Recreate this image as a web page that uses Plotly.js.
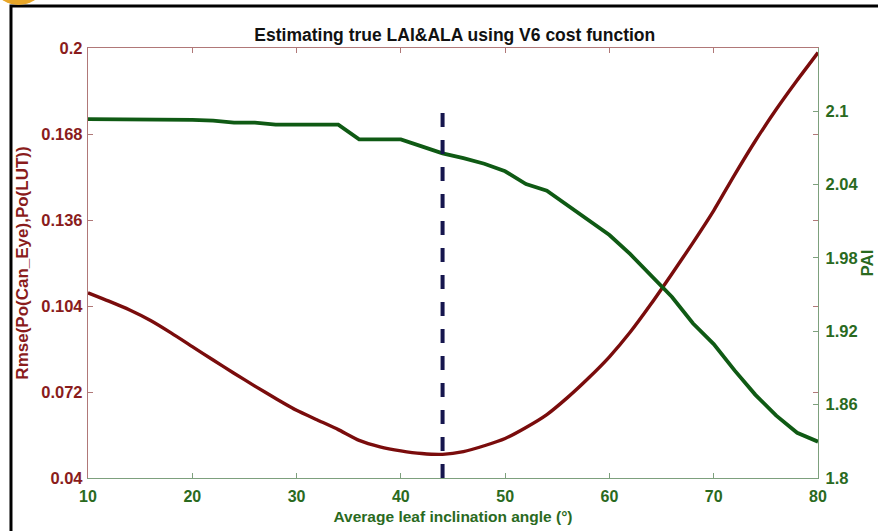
<!DOCTYPE html>
<html>
<head>
<meta charset="utf-8">
<script src="https://cdn.plot.ly/plotly-3.0.1.min.js"></script>
<style>html,body{margin:0;padding:0;background:#fff;}#chart{width:878px;height:531px;}</style>
</head>
<body>
<div id="chart"></div>
<script>
// Average leaf inclination angle (degrees)
const angle = [10,12,14,16,18,20,22,24,26,28,30,32,34,36,38,40,42,44,46,48,50,52,54,56,58,60,62,64,66,68,70,72,74,76,78,80];
// Rmse(Po(Can_Eye),Po(LUT)) - left axis
const rmse = [0.1089,0.1058,0.1025,0.0986,0.0939,0.0889,0.0839,0.0790,0.0742,0.0696,0.0652,0.0616,0.0580,0.0540,0.0516,0.0501,0.0491,0.0488,0.0498,0.0520,0.0547,0.0588,0.0636,0.0700,0.0772,0.0851,0.0943,0.1048,0.1160,0.1275,0.1395,0.1528,0.1655,0.1772,0.1880,0.1983];
// PAI - right axis
const pai = [2.0935,2.0935,2.0935,2.0935,2.0933,2.0928,2.0922,2.0906,2.0905,2.0890,2.0889,2.0889,2.0889,2.0769,2.0769,2.0769,2.0712,2.0655,2.0616,2.0570,2.0508,2.0404,2.0349,2.0230,2.0108,1.9987,1.9830,1.9660,1.9480,1.9265,1.9095,1.8880,1.8680,1.8510,1.8370,1.8297];
// estimated angle marker
const bestAngle = [44, 44];
const bestMarkerY = [0.04, 0.176];

const xTicks = [10,20,30,40,50,60,70,80];
const leftTicks = [0.04,0.072,0.104,0.136,0.168,0.2];
const leftTickText = ['0.04','0.072','0.104','0.136','0.168','0.2'];
const rightTicks = [1.8,1.86,1.92,1.98,2.04,2.1];
const rightTickText = ['1.8','1.86','1.92','1.98','2.04','2.1'];

const RED = '#7a0c0c', REDTXT = '#8a1c1c', REDAX = '#b07878';
const GRN = '#0f5a14', GRNTXT = '#2a6a1e', GRNAX = '#7da07d';
const FONT = 'Liberation Sans, Arial, sans-serif';

const traces = [
  {x: angle, y: rmse, xaxis:'x', yaxis:'y', type:'scatter', mode:'lines',
   line:{color:RED, width:3.4, shape:'spline', smoothing:0.6}, hoverinfo:'skip', showlegend:false},
  {x: angle, y: pai, xaxis:'x', yaxis:'y2', type:'scatter', mode:'lines',
   line:{color:GRN, width:3.8}, hoverinfo:'skip', showlegend:false},
  {x: bestAngle, y: bestMarkerY, xaxis:'x2', yaxis:'y', type:'scatter', mode:'lines',
   line:{color:'#16164e', width:4, dash:'14px,13px'}, hoverinfo:'skip', showlegend:false}
];

const layout = {
  width:878, height:531,
  margin:{l:88, r:60, t:48, b:53},
  paper_bgcolor:'#fff', plot_bgcolor:'#fff',
  showlegend:false,
  title:{text:'<b>Estimating true LAI&amp;ALA using V6 cost function</b>', x:0.518, xanchor:'center', y:0.934, yanchor:'middle',
         font:{family:FONT, size:17.5, color:'#111'}},
  xaxis:{range:[10,80], tickvals:xTicks, ticktext:xTicks.map(String), ticks:'inside', ticklen:5, tickcolor:GRNAX,
         showline:true, linecolor:GRNAX, linewidth:1.2, mirror:false, showgrid:false, zeroline:false,
         ticklabelstandoff:4,
         tickfont:{family:FONT, size:16, color:GRNTXT, weight:'bold'},
         title:{text:'<b>Average leaf inclination angle (°)</b>', font:{family:FONT, size:15.5, color:GRNTXT}, standoff:6}},
  xaxis2:{range:[10,80], overlaying:'x', side:'top', anchor:'y', tickvals:xTicks, ticks:'inside', ticklen:5, tickcolor:REDAX,
          showline:true, linecolor:REDAX, linewidth:1.2, showticklabels:false, showgrid:false, zeroline:false},
  yaxis:{range:[0.04,0.2], tickvals:leftTicks, ticktext:leftTickText, ticks:'inside', ticklen:5, tickcolor:REDAX,
         showline:true, linecolor:REDAX, linewidth:1.2, mirror:'ticks', showgrid:false, zeroline:false,
         ticklabelstandoff:1,
         tickfont:{family:FONT, size:16.5, color:REDTXT, weight:'bold'},
         title:{text:'<b>Rmse(Po(Can_Eye),Po(LUT))</b>', font:{family:FONT, size:17, color:REDTXT}, standoff:8}},
  yaxis2:{range:[1.8,2.1516], overlaying:'y', side:'right', anchor:'x', tickvals:rightTicks, ticktext:rightTickText,
          ticks:'inside', ticklen:5, tickcolor:GRNAX, showline:true, linecolor:GRNAX, linewidth:1.2,
          showgrid:false, zeroline:false, ticklabelstandoff:3,
          tickfont:{family:FONT, size:16.5, color:GRNTXT, weight:'bold'}},
  annotations:[
    {text:'<b>PAI</b>', xref:'paper', yref:'paper', x:1.0665, y:0.50, xanchor:'center', yanchor:'middle',
     textangle:-90, showarrow:false, font:{family:FONT, size:17, color:GRNTXT}}
  ],
  shapes:[
    {type:'rect', xref:'paper', yref:'paper', x0:-0.1055, x1:1.09, y0:-0.14, y1:1.0977,
     line:{color:'#000', width:3}, fillcolor:'rgba(0,0,0,0)', layer:'above'},
    {type:'circle', xref:'paper', yref:'paper', x0:-0.125, x1:-0.065, y0:1.10, y1:1.17,
     line:{width:0}, fillcolor:'#e8a628', layer:'above'}
  ]
};

Plotly.newPlot('chart', traces, layout, {displayModeBar:false, staticPlot:true});
</script>
</body>
</html>
